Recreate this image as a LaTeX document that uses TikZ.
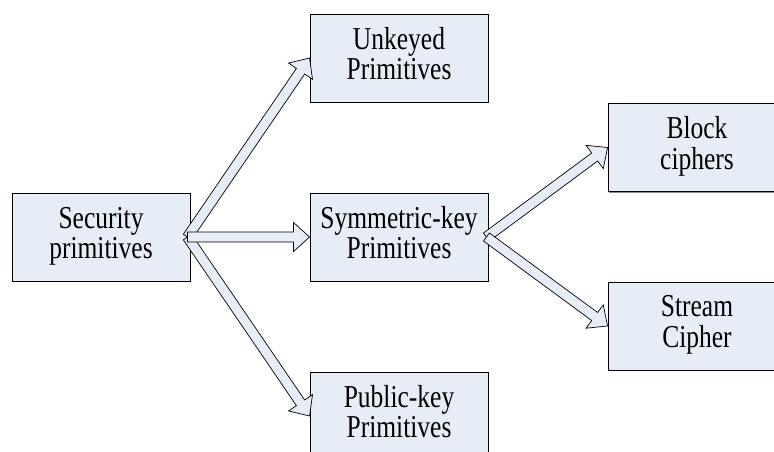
\documentclass[tikz,border=0pt]{standalone}
\usepackage{fontspec}
\setmainfont{Liberation Serif}
\usetikzlibrary{calc,shadows}
\definecolor{boxfill}{RGB}{231,237,247}
% two-line label, set tall and narrow
\newcommand{\twolines}[2]{%
  \scalebox{1}[1.25]{\fontsize{25.5}{23}\selectfont
    \begin{tabular}{@{}c@{}}#1\\#2\end{tabular}}}
\tikzset{
  prim/.style={draw=black, line width=0.9pt, fill=boxfill,
    minimum width=178pt, minimum height=88pt, inner sep=0pt,
    align=center,
    drop shadow={shadow xshift=1.2pt, shadow yshift=-1.2pt, fill=black!45, opacity=1}},
  blockarrow/.style={draw=black, line width=0.7pt, fill=boxfill, line join=miter}
}
% hollow block arrow from #1 to #2
\newcommand{\blockarrow}[2]{%
  \path (#1) coordinate (ba-a) (#2) coordinate (ba-b);
  \path ($(ba-b)!16pt!(ba-a)$) coordinate (ba-h);
  \draw[blockarrow]
    ($(ba-a)!5pt!90:(ba-b)$) --
    ($(ba-h)!5pt!90:(ba-b)$) --
    ($(ba-h)!14.5pt!90:(ba-b)$) --
    (ba-b) --
    ($(ba-h)!14.5pt!-90:(ba-b)$) --
    ($(ba-h)!5pt!-90:(ba-b)$) --
    ($(ba-a)!5pt!-90:(ba-b)$) -- cycle;
}
\begin{document}
\begin{tikzpicture}[x=1pt, y=-1pt]
  \useasboundingbox (0,0) rectangle (774,452);
  \node[prim] (sec) at (101,237) {\twolines{Security}{primitives}};
  \node[prim] (unk) at (399,58) {\twolines{Unkeyed}{Primitives}};
  \node[prim] (sym) at (399,237) {\twolines{Symmetric-key}{Primitives}};
  \node[prim] (pub) at (399,416) {\twolines{Public-key}{Primitives}};
  \node[prim] (blk) at (697,147.5) {\twolines{Block}{ciphers}};
  \node[prim] (str) at (697,326) {\twolines{Stream}{Cipher}};

  \coordinate (s1) at ([xshift=-3pt]sec.east);
  \coordinate (s2) at ([xshift=-2pt]sym.east);

  \blockarrow{s1}{unk.west}
  \blockarrow{s1}{pub.west}
  \blockarrow{s1}{sym.west}
  \blockarrow{s2}{blk.west}
  \blockarrow{s2}{str.west}
\end{tikzpicture}
\end{document}
